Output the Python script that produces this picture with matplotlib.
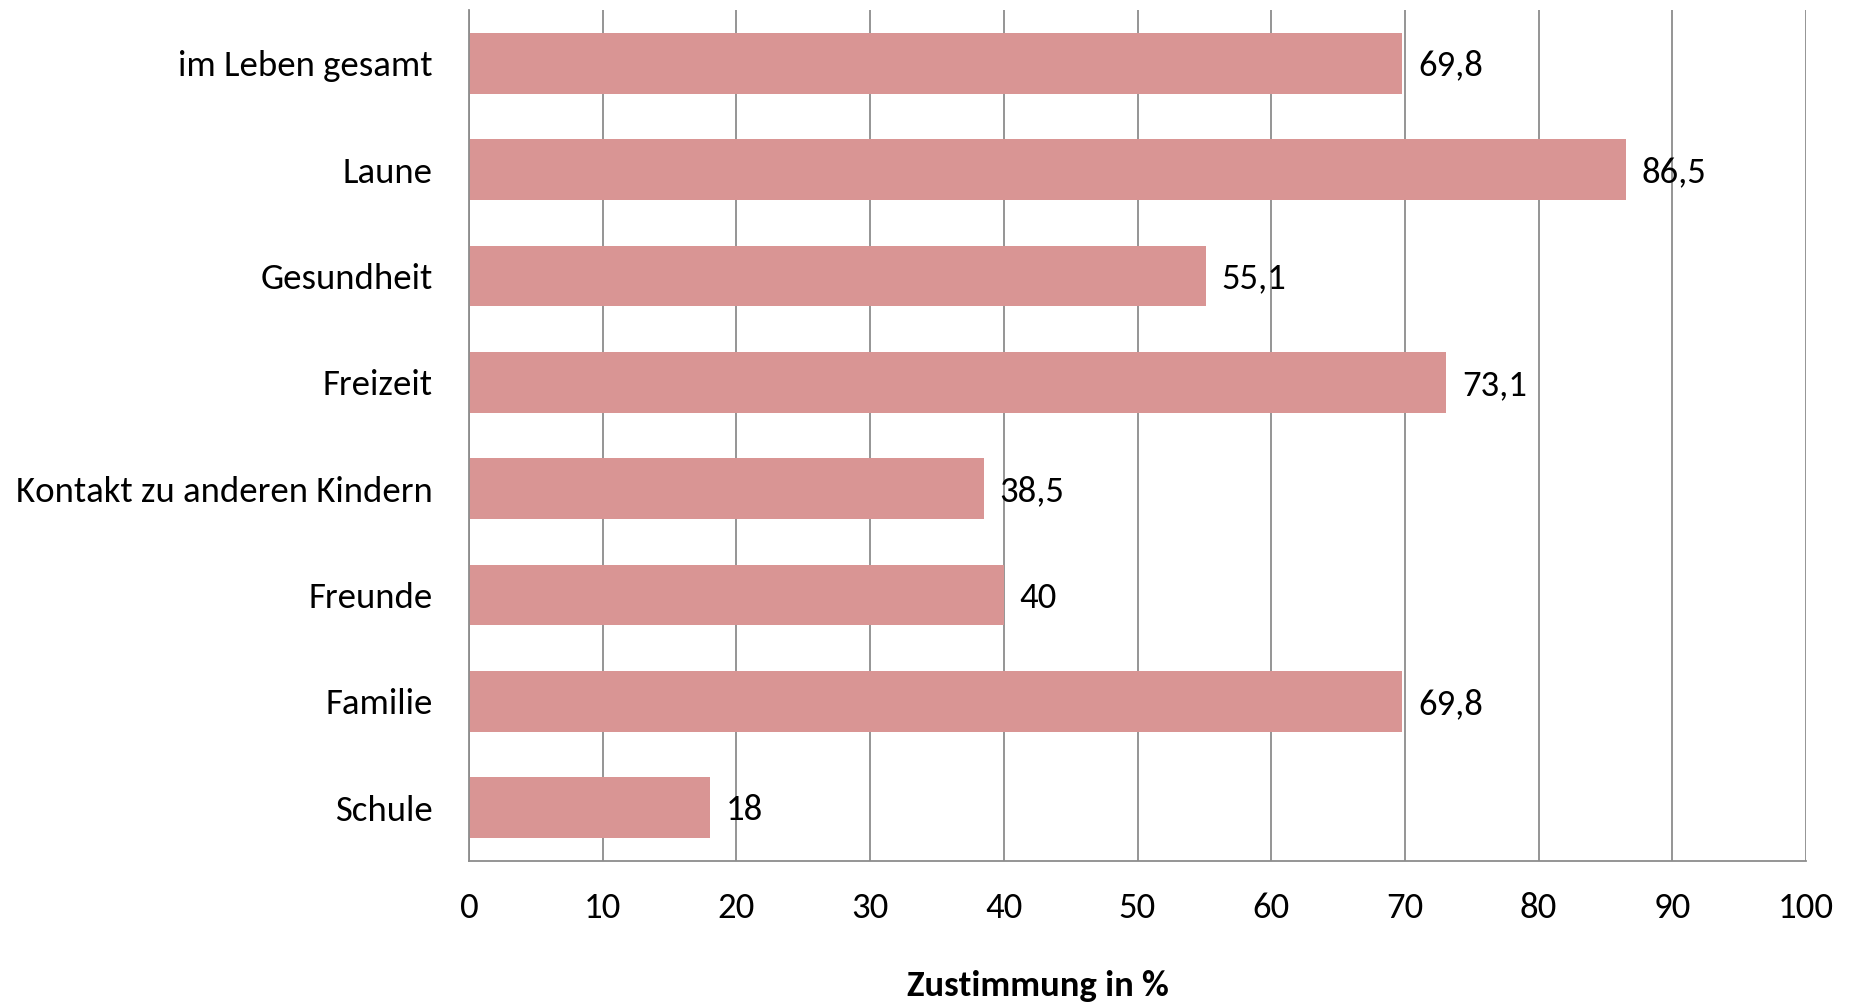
import matplotlib
matplotlib.use("Agg")
import matplotlib.pyplot as plt

# categories from top to bottom
categories = ["im Leben gesamt", "Laune", "Gesundheit", "Freizeit",
              "Kontakt zu anderen Kindern", "Freunde", "Familie", "Schule"]
values = [69.8, 86.5, 55.1, 73.1, 38.5, 40, 69.8, 18]
xticks = [0, 10, 20, 30, 40, 50, 60, 70, 80, 90, 100]

plt.rcParams['font.family'] = ['Carlito', 'Lato', 'DejaVu Sans']

fig = plt.figure(figsize=(18.5, 10.02), dpi=100)
ax = fig.add_axes([469 / 1850, 1 - 861 / 1002, (1806 - 469) / 1850, (861 - 10) / 1002])

pos = list(range(len(categories)))
ax.barh(pos, values, height=0.57, color="#d99594", zorder=2)

# value labels with german decimal comma
for p, v in zip(pos, values):
    txt = ("%g" % v).replace(".", ",")
    ax.annotate(txt, (v, p), xytext=(11.5, -9), textcoords="offset points",
                va="baseline", ha="left", fontsize=26.5, zorder=3)

ax.set_ylim(len(categories) - 0.5, -0.5)
ax.set_xlim(0, 100)
ax.set_yticks(pos)
ax.set_yticklabels(categories, fontsize=26.5)
ax.set_xticks(xticks)
ax.set_xticklabels([str(t) for t in xticks], fontsize=26.5)
ax.tick_params(axis="y", length=0, pad=26)
ax.tick_params(axis="x", length=0, pad=22.5)

ax.grid(axis="x", color="#8c8c8c", linewidth=1.3, zorder=1)
ax.set_axisbelow(True)
for s in ["top", "right"]:
    ax.spines[s].set_visible(False)
for s in ["left", "bottom"]:
    ax.spines[s].set_color("#8c8c8c")
    ax.spines[s].set_linewidth(1.3)

fig.text(1038 / 1850, 1 - 996 / 1002, "Zustimmung in %", ha="center", va="baseline",
         fontsize=26.5, fontweight="bold")

fig.savefig("out.png", dpi=100)
